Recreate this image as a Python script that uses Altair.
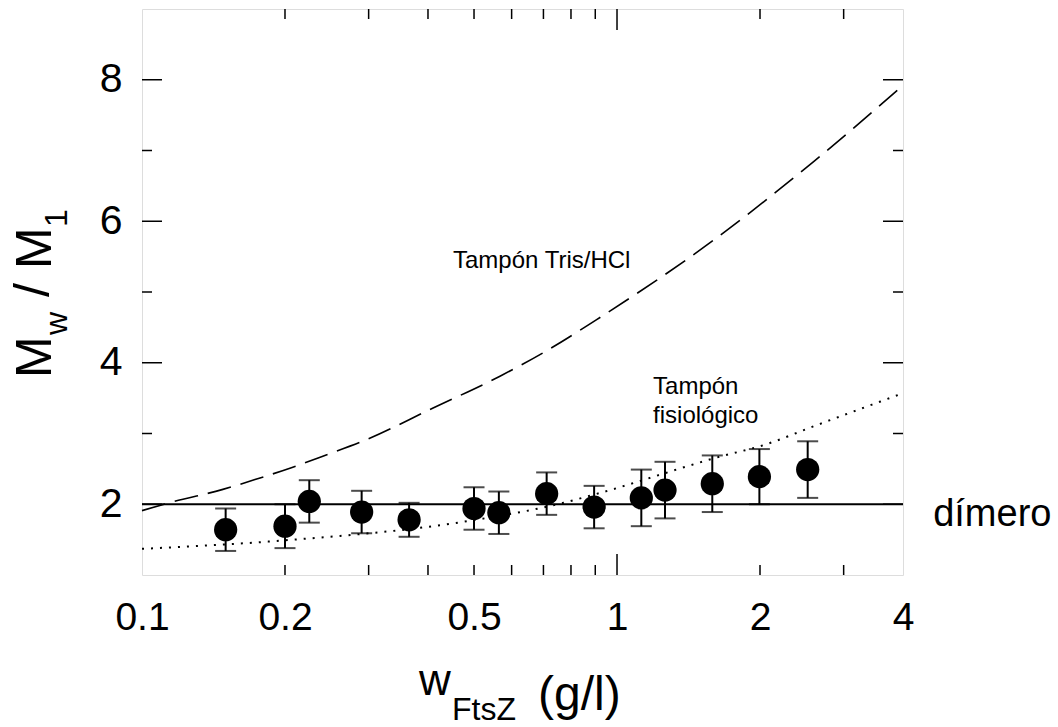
import altair as alt
import pandas as pd

# ---- data ----
w_ftsz = [0.15, 0.20, 0.225, 0.29, 0.365, 0.50, 0.564, 0.711, 0.895, 1.125, 1.262, 1.587, 1.994, 2.52]
mw_m1 = [1.64, 1.69, 2.04, 1.89, 1.78, 1.94, 1.88, 2.15, 1.96, 2.09, 2.20, 2.29, 2.39, 2.49]
err = [0.30, 0.31, 0.30, 0.30, 0.24, 0.30, 0.30, 0.30, 0.30, 0.40, 0.40, 0.40, 0.39, 0.40]

tris_x = [0.1, 0.114, 0.148, 0.175, 0.207, 0.245, 0.289, 0.41, 0.567, 0.711, 0.906, 1.595, 2.59, 4.0]
tris_y = [1.91, 2.02, 2.21, 2.36, 2.52, 2.70, 2.88, 3.36, 3.81, 4.17, 4.61, 5.73, 6.84, 7.92]

fisio_x = [0.1, 0.2, 0.483, 0.771, 0.921, 1.621, 2.065, 2.59, 4.0]
fisio_y = [1.37, 1.49, 1.76, 2.02, 2.16, 2.66, 2.85, 3.10, 3.57]

dimer_level = 2
x_labels = [0.1, 0.2, 0.5, 1, 2, 4]
y_labels = [2, 4, 6, 8]
x_minor_ticks = [0.2, 0.3, 0.4, 0.5, 0.6, 0.7, 0.8, 0.9, 2, 3]
x_major_ticks = [1]
y_major_ticks = [2, 4, 6, 8]
y_minor_ticks = [3, 5, 7]

annotations = pd.DataFrame({
    "x": [0.4516, 1.191, 1.191, 4.63],
    "y": [5.34, 3.56, 3.15, 1.69],
    "text": ["Tampón Tris/HCl", "Tampón", "fisiológico", "dímero"],
    "size": [24, 24, 24, 38],
})

W, H = 761, 566
FONT = "Liberation Sans"

pts = pd.DataFrame({"x": w_ftsz, "y": mw_m1, "e": err})
pts["lo"] = pts["y"] - pts["e"]
pts["hi"] = pts["y"] + pts["e"]

xs = alt.Scale(type="log", domain=[0.1, 4], nice=False)
ys = alt.Scale(domain=[1, 9], nice=False, zero=False)

xaxis = alt.Axis(values=x_labels, format="~g", labelFontSize=39, labelFont=FONT, ticks=False,
                 domain=False, grid=False, title=None, labelPadding=23, labelOverlap=False,
                 labelFlush=False, labelBound=False, labelColor="black")
yaxis = alt.Axis(values=y_labels, format="d", labelFontSize=41, labelFont=FONT, ticks=False, domain=False,
                 grid=False, title=None, labelPadding=20, labelColor="black")

base_pts = alt.Chart(pts)

rules = base_pts.mark_rule(color="black", strokeWidth=2).encode(
    x=alt.X("x:Q", scale=xs, axis=xaxis), y=alt.Y("lo:Q", scale=ys, axis=yaxis), y2="hi:Q")
cap_lo = base_pts.mark_tick(orient="horizontal", size=21, thickness=2, color="black").encode(
    x=alt.X("x:Q", scale=xs), y=alt.Y("lo:Q", scale=ys))
cap_hi = base_pts.mark_tick(orient="horizontal", size=21, thickness=2, color="black").encode(
    x=alt.X("x:Q", scale=xs), y=alt.Y("hi:Q", scale=ys))
dots = base_pts.mark_point(filled=True, shape="circle", size=540, color="black", opacity=1).encode(
    x=alt.X("x:Q", scale=xs), y=alt.Y("y:Q", scale=ys))

tris = alt.Chart(pd.DataFrame({"x": tris_x, "y": tris_y})).mark_line(
    color="black", strokeWidth=1.6, strokeDash=[24, 10], interpolate="monotone").encode(
    x=alt.X("x:Q", scale=xs), y=alt.Y("y:Q", scale=ys))
fisio = alt.Chart(pd.DataFrame({"x": fisio_x, "y": fisio_y})).mark_line(
    color="black", strokeWidth=2, strokeDash=[2, 7], interpolate="monotone").encode(
    x=alt.X("x:Q", scale=xs), y=alt.Y("y:Q", scale=ys))

dimer = alt.Chart(pd.DataFrame({"y": [dimer_level]})).mark_rule(color="black", strokeWidth=2).encode(
    y=alt.Y("y:Q", scale=ys))

ann = alt.Chart(annotations).mark_text(align="left", baseline="alphabetic", font=FONT, color="black").encode(
    x=alt.X("x:Q", scale=xs), y=alt.Y("y:Q", scale=ys), text="text:N",
    size=alt.Size("size:Q", scale=None, legend=None))

def xticks(vals, length):
    d = alt.Chart(pd.DataFrame({"x": vals}))
    b = d.mark_rule(color="black", strokeWidth=1.5).encode(
        x=alt.X("x:Q", scale=xs), y=alt.value(H), y2=alt.value(H - length))
    t = d.mark_rule(color="black", strokeWidth=1.5).encode(
        x=alt.X("x:Q", scale=xs), y=alt.value(0), y2=alt.value(length))
    return [b, t]

def yticks(vals, length):
    d = alt.Chart(pd.DataFrame({"y": vals}))
    l = d.mark_rule(color="black", strokeWidth=1.5).encode(
        y=alt.Y("y:Q", scale=ys), x=alt.value(0), x2=alt.value(length))
    r = d.mark_rule(color="black", strokeWidth=1.5).encode(
        y=alt.Y("y:Q", scale=ys), x=alt.value(W), x2=alt.value(W - length))
    return [l, r]

tick_layers = xticks(x_minor_ticks, 10) + xticks(x_major_ticks, 21) + \
    yticks(y_major_ticks, 20) + yticks(y_minor_ticks, 10)

# ---- axis titles with sub-scripts (as text pieces) ----
def label(txt, x, y, size, angle=0):
    kw = dict(align="left", baseline="alphabetic", font=FONT, fontSize=size, color="black", text=txt)
    if angle:
        kw["angle"] = angle
    return alt.Chart(pd.DataFrame({"a": [0]})).mark_text(**kw).encode(x=alt.value(x), y=alt.value(y))

title_layers = [
    label("M", -91, 369, 50, 270),
    label("w", -75, 326, 32, 270),
    label("/", -93, 288, 50, 270),
    label("M", -91, 260, 50, 270),
    label("1", -75, 218, 32, 270),
    label("w", 277, 686, 44),
    label("FtsZ", 310, 711, 32),
    label("(g/l)", 396, 701, 48),
]

chart = alt.layer(
    dimer, tris, fisio, rules, cap_lo, cap_hi, dots, ann, *tick_layers, *title_layers
).properties(
    width=W, height=H,
    padding={"left": 142, "top": 9, "right": 155, "bottom": 152},
    autosize=alt.AutoSizeParams(type="none"),
).configure_view(stroke="black", strokeWidth=1.5).configure(background="white")

chart.save("out.html", embed_options={"renderer": "svg", "actions": False})
